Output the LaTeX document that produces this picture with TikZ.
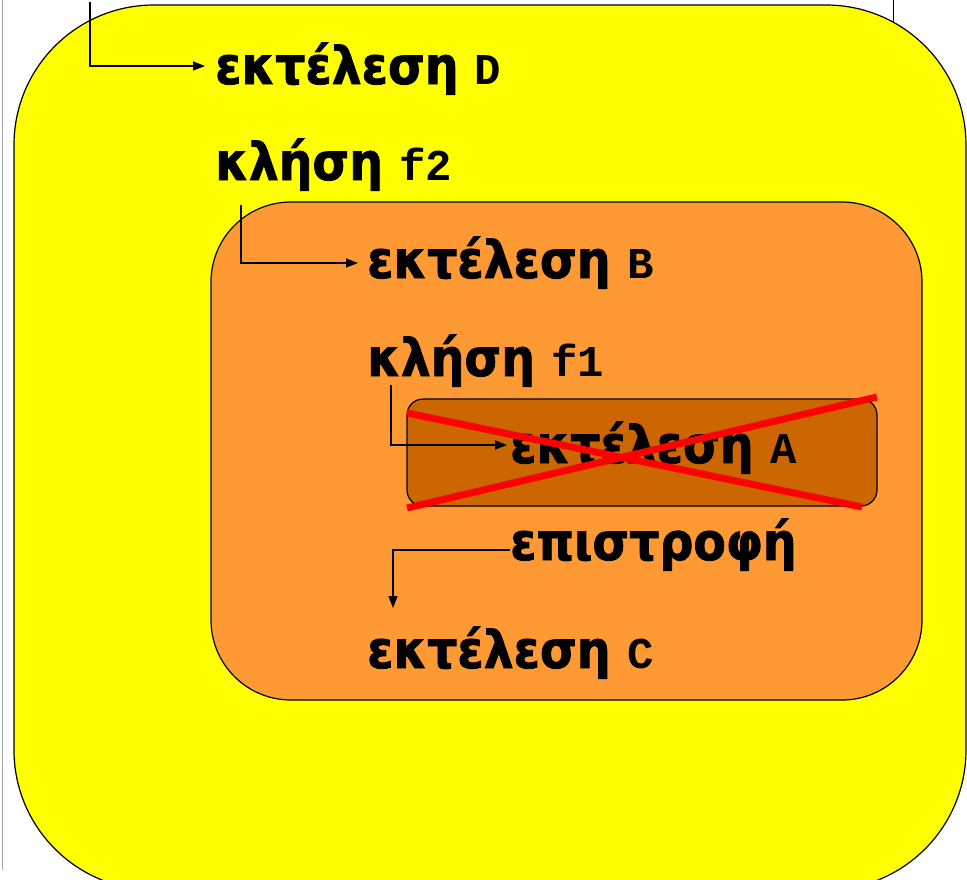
\documentclass[tikz,border=0pt]{standalone}
\usepackage{fontspec}
\setmainfont{DejaVu Sans}
\setmonofont{Liberation Mono}
\newfontfamily\greekbold[FakeStretch=0.91, BoldFeatures={FakeBold=1.5}]{DejaVu Sans}
\usepackage{tikz}
\usetikzlibrary{arrows.meta}
\definecolor{outeryellow}{HTML}{FFFF00}
\definecolor{midorange}{HTML}{FF9933}
\definecolor{darkorange}{HTML}{CC6600}
\definecolor{crossred}{HTML}{FF0000}
\newcommand{\mono}[1]{{\fontsize{44}{50}\ttfamily\bfseries #1}}

\begin{document}
\begin{tikzpicture}[x=1pt, y=-1pt,
    lbl/.style={anchor=base west, inner sep=0pt, font=\fontsize{52}{56}\greekbold\bfseries},
    flow/.style={line width=1.5pt, -{Triangle[length=12pt,width=9pt]}},
    frame/.style={draw=black, line width=1.2pt}]
  \useasboundingbox (0,0) rectangle (967,879);
  \draw[gray!70, line width=1pt] (2,0) -- (2,870);
  \draw[line width=1pt] (893,0) -- (893,27);
  \draw[frame, fill=outeryellow, rounded corners=140pt] (14,5) rectangle (966,890);
  \draw[frame, fill=midorange, rounded corners=80pt] (211,202) rectangle (922,700);
  \draw[frame, fill=darkorange, rounded corners=16pt] (407,399) rectangle (877,506);

  \node[lbl] (execD) at (215,84) {εκτέλεση \mono{D}};
  \node[lbl] (callF2) at (215,180) {κλήση \mono{f2}};
  \node[lbl] (execB) at (367,278) {εκτέλεση \mono{B}};
  \node[lbl] (callF1) at (367,376) {κλήση \mono{f1}};
  \node[lbl] (execA) at (510,463) {εκτέλεση \mono{A}};
  \node[lbl] (ret) at (510,560) {επιστροφή};
  \node[lbl] (execC) at (367,668) {εκτέλεση \mono{C}};

  \coordinate (d0) at (90,2);
  \coordinate (b0) at ([shift={(26pt,-25pt)}]callF2.base west);
  \coordinate (a0) at ([shift={(24pt,-9pt)}]callF1.base west);
  \coordinate (c1) at (393,608);

  \draw[flow] (d0) |- ([shift={(-10pt,18pt)}]execD.base west);
  \draw[flow] (b0) |- ([shift={(-9pt,15pt)}]execB.base west);
  \draw[flow] (a0) |- ([shift={(-3pt,18pt)}]execA.base west);
  \draw[flow] ([yshift=10pt]ret.base west) -| (c1);

  \draw[crossred, line width=7pt] (407,413) -- (862,507);
  \draw[crossred, line width=7pt] (407,508) -- (877,397);
\end{tikzpicture}
\end{document}
